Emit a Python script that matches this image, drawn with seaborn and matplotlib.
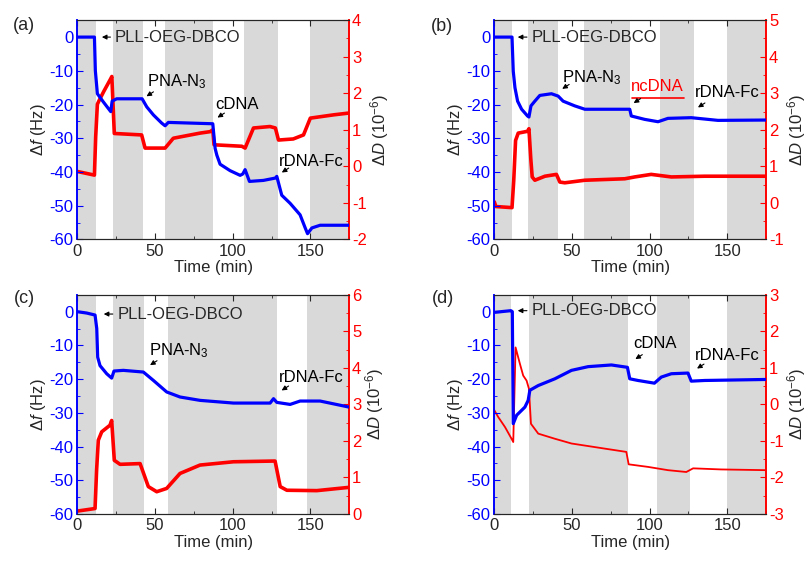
import numpy as np
import pandas as pd
import seaborn as sns
import matplotlib.pyplot as plt
from matplotlib.ticker import MultipleLocator

# ---- data (time in min, df in Hz, dD in 1e-6) ----
t_a_f = [0, 11, 11.6, 12.9, 16.7, 21.5, 22.4, 25.3, 41.7, 44.7, 49, 54.3, 56.5, 58.6, 87.2,
         88.7, 89.8, 91.9, 98.3, 104.8, 106.5, 108, 110.8, 119.8, 127.5, 128.4, 131.6, 137,
         143.4, 146.7, 148.2, 151, 156.3, 175]
f_a = [0, 0, -10, -16.8, -19.2, -22.1, -19, -18.3, -18.3, -20.7, -23.1, -25.5, -26.3, -25.3, -25.7,
       -33, -35, -37.7, -39.6, -41, -40.6, -39.3, -42.8, -42.5, -41.8, -41.3, -46.9, -49.3,
       -52.7, -56.6, -58.3, -56.6, -55.8, -55.8]
t_a_d = [0, 11, 11.8, 12.9, 14, 17, 21.5, 22.2, 23.8, 41.4, 43.6, 56.5, 61.8, 79, 85.5, 87.2,
         88, 105.9, 108, 113.4, 124, 127.5, 129.5, 139, 145.6, 150, 165, 175]
d_a = [-0.14, -0.24, 0.8, 1.7, 1.8, 2.05, 2.4, 2.46, 0.9, 0.86, 0.5, 0.5, 0.77, 0.91, 0.95, 1.0,
       0.59, 0.55, 0.5, 1.05, 1.09, 1.05, 0.72, 0.75, 0.86, 1.32, 1.41, 1.46]

t_b_f = [0, 11.4, 12.2, 13.3, 15, 17.6, 21.4, 22.3, 23.6, 26.1, 29.3, 36.8, 41.1, 44.3, 51.8,
         58.3, 87.2, 88.2, 96.8, 105.4, 111.8, 126.8, 144, 175]
f_b = [0, 0, -10.1, -15, -19, -21.4, -23.4, -23.7, -20.4, -19, -17.3, -16.8, -17.5, -19, -20.4,
       -21.4, -21.4, -23.4, -24.4, -25.1, -24.1, -23.9, -24.7, -24.6]
t_b_d = [0, 1, 11.4, 12.5, 13.7, 15.4, 21.4, 22.3, 23.5, 24.4, 26.1, 32.6, 40, 42.2, 45.4, 58.3,
         84, 90.4, 101, 114, 135.4, 175]
d_b = [0.03, -0.1, -0.13, 0.6, 1.71, 1.91, 1.96, 2.03, 1.2, 0.71, 0.62, 0.73, 0.78, 0.57, 0.55,
       0.62, 0.66, 0.71, 0.78, 0.71, 0.73, 0.73]

t_c_f = [0, 6, 11.4, 12.5, 13.1, 14.6, 18.9, 22.1, 23.6, 29.6, 42.5, 49, 57.5, 66.1, 79, 100.5,
         124.1, 126.3, 128.4, 137, 143.4, 156.3, 175]
f_c = [0, -0.4, -1, -5, -13.5, -16, -18.4, -19.7, -17.6, -17.4, -17.9, -20.4, -23.8, -25.3, -26.3,
       -27.1, -27.1, -25.8, -26.9, -27.5, -26.5, -26.5, -28.3]
t_c_d = [0, 11.4, 12.4, 13.5, 15.7, 21, 22.1, 23.8, 27.5, 40.4, 45.7, 51.1, 57.5, 66.1, 79,
         100.5, 127.3, 130.6, 134.9, 154.2, 175]
d_c = [0.08, 0.15, 1.2, 2.02, 2.25, 2.43, 2.56, 1.47, 1.36, 1.38, 0.75, 0.61, 0.7, 1.11, 1.34,
       1.43, 1.45, 0.75, 0.65, 0.64, 0.73]

t_d_f = [0, 10.7, 11.6, 12.2, 14.4, 19.7, 21.8, 22.9, 28.3, 39, 49.7, 60.4, 75.4, 85.7, 87.2,
         92.5, 103.1, 107.5, 114, 124.7, 126.8, 135.4, 175]
f_d = [-0.2, 0.3, 0, -33.2, -30.7, -28.3, -26.3, -23.3, -21.9, -19.9, -17.4, -16.3, -15.8, -16.5,
       -19.9, -20.4, -21.2, -19.4, -18.4, -18.2, -20.6, -20.4, -20.1]
t_d_d = [0, 2.6, 6.9, 11.1, 12.2, 13.7, 16.5, 18.6, 20.8, 22.3, 23.6, 28.3, 39, 49.7, 71.1, 85,
         86.5, 98.9, 111.8, 123.6, 128, 146, 175]
d_d = [-0.16, -0.35, -0.62, -0.94, -1.03, 1.56, 1.11, 0.79, 0.65, 0.43, -0.53, -0.8, -0.94,
       -1.07, -1.21, -1.3, -1.64, -1.71, -1.8, -1.85, -1.75, -1.78, -1.8]

bands_a = [(0, 12), (23, 42), (56.5, 87.5), (107, 129), (150, 175)]
bands_b = [(0, 11.6), (22, 41), (58, 87.5), (107, 128.5), (150, 175)]
bands_c = [(0, 12), (23, 43), (58.5, 128.5), (148, 175)]
bands_d = [(0, 11), (22.3, 86), (104.7, 126), (149.5, 175)]

d_lims = {"a": (-2, 4), "b": (-1, 5), "c": (0, 6), "d": (-3, 3)}

# label text, text position (x, y in Hz), arrow tip (x, y)
notes_a = [("PLL-OEG-DBCO", 24.3, 0, 14, 0),
           ("PNA-N$_3$", 44.7, -13.1, 43, -18),
           ("cDNA", 88.7, -19.9, 88.7, -24.3),
           ("rDNA-Fc", 129.5, -37, 130.1, -40.6)]
notes_b = [("PLL-OEG-DBCO", 24, 0, 13.3, 0),
           ("PNA-N$_3$", 43.3, -12.1, 42.2, -15.8),
           ("ncDNA", 88.2, -14.6, 88.2, -20),
           ("rDNA-Fc", 128.9, -16.4, 129.6, -21.3)]
notes_c = [("PLL-OEG-DBCO", 25.8, -0.7, 15.2, -0.7),
           ("PNA-N$_3$", 46.4, -11.5, 45.3, -16.3),
           ("rDNA-Fc", 129.5, -19.4, 130, -23.8)]
notes_d = [("PLL-OEG-DBCO", 24, 0.3, 13.3, 0.3),
           ("cDNA", 89.3, -9.4, 89.3, -14.5),
           ("rDNA-Fc", 128.9, -13, 129, -17.3)]

sns.set_style("ticks")
plt.rcParams["font.family"] = ["Liberation Sans", "DejaVu Sans"]
plt.rcParams["mathtext.fontset"] = "custom"
plt.rcParams["mathtext.rm"] = "Liberation Sans"
plt.rcParams["mathtext.it"] = "Liberation Sans:italic"
plt.rcParams["axes.unicode_minus"] = False

BLUE = "#0000ff"
RED = "#ff0000"
FS = 12


def draw_panel(fig, rect, label, lpos, tf, fv, td, dv, bands, dlim, notes, red_lw=2.6):
    ax = fig.add_axes(rect)
    ax2 = ax.twinx()
    # grey injection bands go on the lower (red) axes so both curves sit above them
    for x0, x1 in bands:
        ax2.axvspan(x0, x1, color="#d9d9d9", lw=0, zorder=0)
    sns.lineplot(x=td, y=dv, ax=ax2, color=RED, lw=red_lw, estimator=None, sort=False, zorder=2)
    sns.lineplot(x=tf, y=fv, ax=ax, color=BLUE, lw=2.3, estimator=None, sort=False, zorder=3)
    ax2.set_zorder(0)
    ax.set_zorder(1)
    ax.patch.set_visible(False)
    ax.set_xlim(0, 175)
    ax.set_ylim(-60, 5)
    ax2.set_ylim(*dlim)
    ax.set_xlabel("Time (min)", fontsize=FS, labelpad=1)
    ax.set_ylabel("Δ$f$ (Hz)", fontsize=FS, labelpad=1)
    ax2.set_ylabel("Δ$D$ (10$^{-6}$)", fontsize=FS, labelpad=1)
    ax.xaxis.set_major_locator(MultipleLocator(50))
    ax.xaxis.set_minor_locator(MultipleLocator(25))
    ax.yaxis.set_major_locator(MultipleLocator(10))
    ax.yaxis.set_minor_locator(MultipleLocator(5))
    ax2.yaxis.set_major_locator(MultipleLocator(1))
    ax2.yaxis.set_minor_locator(MultipleLocator(0.5))
    ax.tick_params(axis="x", which="both", direction="in", top=True, labelsize=FS, pad=3)
    ax.tick_params(axis="x", which="major", length=4)
    ax.tick_params(axis="x", which="minor", length=2)
    ax.tick_params(axis="y", which="both", direction="in", colors=BLUE, labelsize=FS, pad=3)
    ax.tick_params(axis="y", which="major", length=4)
    ax.tick_params(axis="y", which="minor", length=2)
    ax2.tick_params(axis="y", which="both", direction="in", colors=RED, labelsize=FS, pad=2)
    ax2.tick_params(axis="y", which="major", length=4)
    ax2.tick_params(axis="y", which="minor", length=2)
    for a in (ax, ax2):
        a.spines["left"].set_color(BLUE)
        a.spines["right"].set_color(RED)
        a.spines["left"].set_linewidth(1.2)
        a.spines["right"].set_linewidth(1.2)
        a.spines["top"].set_linewidth(0.8)
        a.spines["bottom"].set_linewidth(0.8)
    for text, tx, ty, ax_, ay_ in notes:
        if ty == ay_:
            ax.text(tx, ty, text, fontsize=FS, va="center", ha="left")
            ax.annotate("", xy=(ax_, ay_), xytext=(tx - 1.2, ty),
                        arrowprops=dict(arrowstyle="-|>", color="black", lw=0.8, mutation_scale=7))
        else:
            color = RED if text == "ncDNA" else "black"
            ax.text(tx, ty, text, fontsize=FS, va="center", ha="left", color=color)
            if text == "ncDNA":
                ax.plot([tx + 0.3, tx + 34], [ty - 3.4, ty - 3.4], color=RED, lw=1.2)
            ax.annotate("", xy=(ax_, ay_), xytext=(ax_ + 7.5, ay_ + 2.2),
                        arrowprops=dict(arrowstyle="-|>", color="black", lw=0.8, mutation_scale=7))
    fig.text(lpos[0], lpos[1], label, fontsize=FS + 1, ha="center", va="center")
    return ax


fig = plt.figure(figsize=(8.09, 5.62), dpi=100)
W, H = 0.336, 0.390
draw_panel(fig, [0.0956, 0.574, W, H], "(a)", (0.030, 0.954), t_a_f, f_a, t_a_d, d_a,
           bands_a, d_lims["a"], notes_a)
draw_panel(fig, [0.611, 0.574, W, H], "(b)", (0.546, 0.952), t_b_f, f_b, t_b_d, d_b,
           bands_b, d_lims["b"], notes_b)
draw_panel(fig, [0.0956, 0.0854, W, H], "(c)", (0.030, 0.469), t_c_f, f_c, t_c_d, d_c,
           bands_c, d_lims["c"], notes_c)
draw_panel(fig, [0.611, 0.0854, W, H], "(d)", (0.548, 0.468), t_d_f, f_d, t_d_d, d_d,
           bands_d, d_lims["d"], notes_d, red_lw=1.3)

fig.savefig("out.png", dpi=100)
